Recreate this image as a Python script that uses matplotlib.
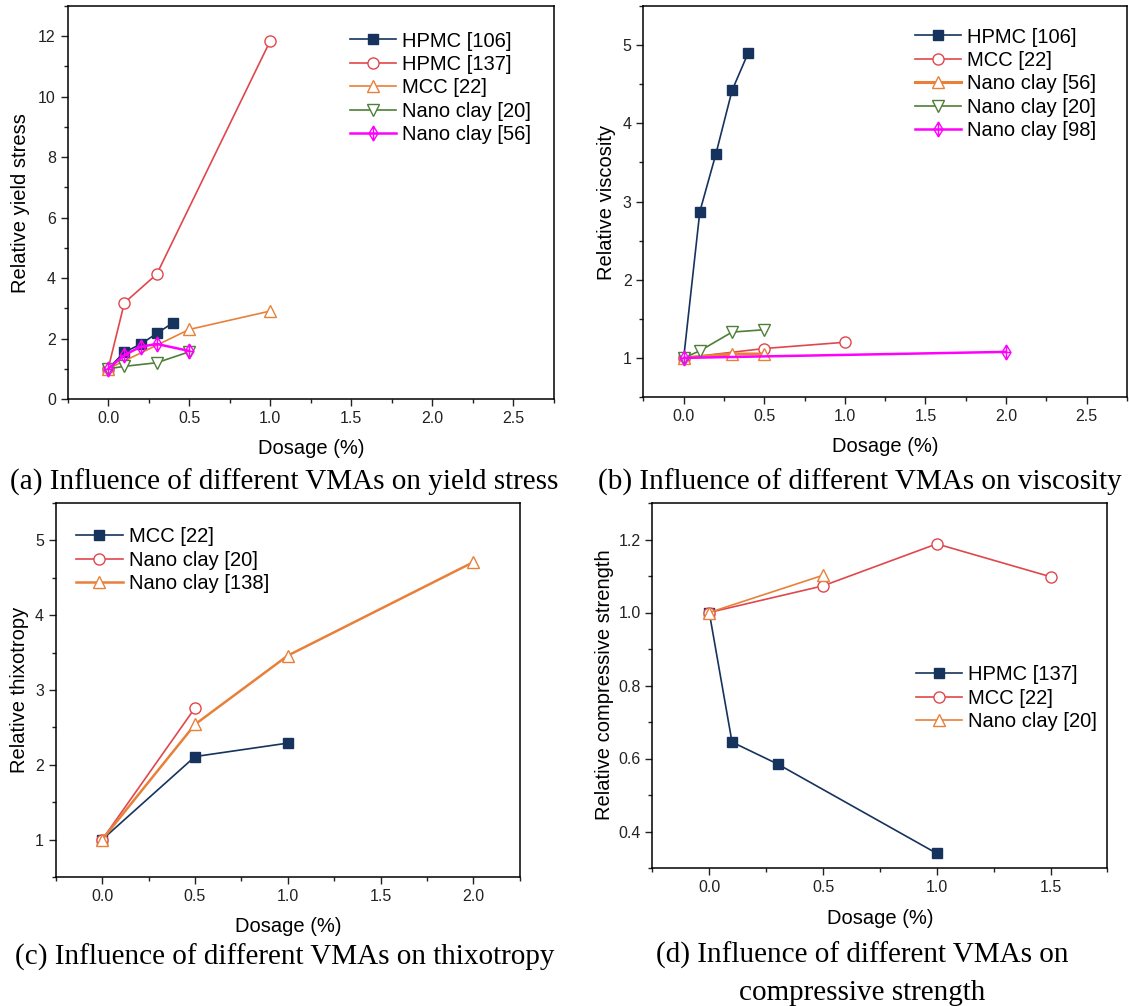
import numpy as np
import matplotlib
matplotlib.use('Agg')
import matplotlib.pyplot as plt
from matplotlib.path import Path
from matplotlib.ticker import MultipleLocator

plt.rcParams['font.family'] = ['Liberation Sans', 'DejaVu Sans']

W, H = 1129, 1006

# colours (Origin-like)
NAVY = '#15335c'
RED = '#e0474c'
ORANGE = '#e8803a'
GREEN = '#4e7f38'
MAGENTA = '#ff00ff'

# (a) yield stress
a_hpmc106_x = [0, 0.1, 0.2, 0.3, 0.4]
a_hpmc106_y = [1.0, 1.55, 1.81, 2.17, 2.52]
a_hpmc137_x = [0, 0.1, 0.3, 1.0]
a_hpmc137_y = [1.0, 3.18, 4.13, 11.85]
a_mcc22_x = [0, 0.5, 1.0]
a_mcc22_y = [1.0, 2.3, 2.91]
a_nano20_x = [0, 0.1, 0.3, 0.5]
a_nano20_y = [1.0, 1.08, 1.2, 1.56]
a_nano56_x = [0, 0.1, 0.2, 0.3, 0.5]
a_nano56_y = [1.0, 1.45, 1.73, 1.82, 1.59]

# (b) viscosity
b_hpmc106_x = [0, 0.1, 0.2, 0.3, 0.4]
b_hpmc106_y = [1.0, 2.87, 3.61, 4.42, 4.9]
b_mcc22_x = [0, 0.5, 1.0]
b_mcc22_y = [1.0, 1.12, 1.2]
b_nano56_x = [0, 0.3, 0.5]
b_nano56_y = [1.0, 1.05, 1.05]
b_nano20_x = [0, 0.1, 0.3, 0.5]
b_nano20_y = [1.0, 1.09, 1.33, 1.36]
b_nano98_x = [0, 2.0]
b_nano98_y = [1.0, 1.077]

# (c) thixotropy
c_mcc22_x = [0, 0.5, 1.0]
c_mcc22_y = [1.0, 2.11, 2.29]
c_nano20_x = [0, 0.5]
c_nano20_y = [1.0, 2.76]
c_nano138_x = [0, 0.5, 1.0, 2.0]
c_nano138_y = [1.0, 2.54, 3.46, 4.71]

# (d) compressive strength
d_hpmc137_x = [0, 0.1, 0.3, 1.0]
d_hpmc137_y = [1.0, 0.645, 0.585, 0.34]
d_mcc22_x = [0, 0.5, 1.0, 1.5]
d_mcc22_y = [1.0, 1.073, 1.188, 1.098]
d_nano20_x = [0, 0.5]
d_nano20_y = [1.0, 1.102]

# diamond with a cross inside (Origin style)
diamond_cross = Path(
    [(0, 1), (0.62, 0), (0, -1), (-0.62, 0), (0, 1), (0, 1), (0, -1), (-0.62, 0), (0.62, 0)],
    [Path.MOVETO, Path.LINETO, Path.LINETO, Path.LINETO, Path.CLOSEPOLY,
     Path.MOVETO, Path.LINETO, Path.MOVETO, Path.LINETO])

styles = {
    'sq': dict(marker='s', mfc=NAVY, mec=NAVY, ms=7.2),
    'ci': dict(marker='o', mfc='white', mec=RED, ms=8),
    'tu': dict(marker='^', mfc='white', mec=ORANGE, ms=8.5),
    'td': dict(marker='v', mfc='white', mec=GREEN, ms=8.5),
    'dc': dict(marker=diamond_cross, mfc='none', mec=MAGENTA, ms=10.5),
}


def px_box(l, t, r, b):
    return [l / W, 1 - b / H, (r - l) / W, (b - t) / H]


def style_axes(ax, xlim, ylim, ymaj, ymin):
    ax.set_xlim(*xlim)
    ax.set_ylim(*ylim)
    ax.xaxis.set_major_locator(MultipleLocator(0.5))
    ax.xaxis.set_minor_locator(MultipleLocator(0.25))
    ax.yaxis.set_major_locator(MultipleLocator(ymaj))
    ax.yaxis.set_minor_locator(MultipleLocator(ymin))
    ax.xaxis.set_major_formatter(plt.FormatStrFormatter('%.1f'))
    ax.tick_params(which='both', direction='out', top=False, right=False,
                   labelsize=11.5, colors='#222222', width=1.0)
    ax.tick_params(which='major', length=5, pad=3.5)
    ax.tick_params(which='minor', length=3)
    for s in ax.spines.values():
        s.set_linewidth(1.1)


def series(ax, x, y, color, key, label, lw=1.2):
    ax.plot(x, y, color=color, lw=lw, label=label, **styles[key])


fig = plt.figure(figsize=(W / 100, H / 100), dpi=100)

ax_a = fig.add_axes(px_box(67.6, 6, 554, 399))
ax_b = fig.add_axes(px_box(643.4, 6, 1127, 397))
ax_c = fig.add_axes(px_box(55.8, 503, 519.8, 877))
ax_d = fig.add_axes(px_box(652.4, 503, 1107.4, 868))

# (a)
series(ax_a, a_hpmc106_x, a_hpmc106_y, NAVY, 'sq', 'HPMC [106]')
series(ax_a, a_hpmc137_x, a_hpmc137_y, RED, 'ci', 'HPMC [137]')
series(ax_a, a_mcc22_x, a_mcc22_y, ORANGE, 'tu', 'MCC [22]')
series(ax_a, a_nano20_x, a_nano20_y, GREEN, 'td', 'Nano clay [20]')
series(ax_a, a_nano56_x, a_nano56_y, MAGENTA, 'dc', 'Nano clay [56]', lw=1.8)
style_axes(ax_a, (-0.25, 2.75), (0, 13), 2, 1)

# (b)
series(ax_b, b_hpmc106_x, b_hpmc106_y, NAVY, 'sq', 'HPMC [106]')
series(ax_b, b_mcc22_x, b_mcc22_y, RED, 'ci', 'MCC [22]')
series(ax_b, b_nano56_x, b_nano56_y, ORANGE, 'tu', 'Nano clay [56]', lw=2.2)
series(ax_b, b_nano20_x, b_nano20_y, GREEN, 'td', 'Nano clay [20]')
series(ax_b, b_nano98_x, b_nano98_y, MAGENTA, 'dc', 'Nano clay [98]', lw=1.8)
style_axes(ax_b, (-0.25, 2.75), (0.5, 5.5), 1, 0.5)

# (c)
series(ax_c, c_mcc22_x, c_mcc22_y, NAVY, 'sq', 'MCC [22]')
series(ax_c, c_nano20_x, c_nano20_y, RED, 'ci', 'Nano clay [20]')
series(ax_c, c_nano138_x, c_nano138_y, ORANGE, 'tu', 'Nano clay [138]', lw=1.8)
style_axes(ax_c, (-0.25, 2.25), (0.5, 5.5), 1, 0.5)

# (d)
series(ax_d, d_hpmc137_x, d_hpmc137_y, NAVY, 'sq', 'HPMC [137]')
series(ax_d, d_mcc22_x, d_mcc22_y, RED, 'ci', 'MCC [22]')
series(ax_d, d_nano20_x, d_nano20_y, ORANGE, 'tu', 'Nano clay [20]')
style_axes(ax_d, (-0.25, 1.75), (0.3, 1.3), 0.2, 0.1)
ax_d.yaxis.set_major_formatter(plt.FormatStrFormatter('%.1f'))

legend_kw = dict(loc='upper left', frameon=False, fontsize=14.5, borderpad=0,
                 borderaxespad=0, handlelength=2.3, handletextpad=0.3,
                 labelspacing=0.22)
ax_a.legend(bbox_to_anchor=(0.58, 0.935), **legend_kw)
ax_b.legend(bbox_to_anchor=(0.561, 0.945), **legend_kw)
ax_c.legend(bbox_to_anchor=(0.044, 0.935), **legend_kw)
ax_d.legend(bbox_to_anchor=(0.579, 0.555), **legend_kw)


def ftext(x, y, s, **kw):
    fig.text(x / W, 1 - y / H, s, ha='center', va='center', **kw)


# axis titles
ftext(311, 448, 'Dosage (%)', fontsize=14.5)
ftext(885, 446, 'Dosage (%)', fontsize=14.5)
ftext(288, 926, 'Dosage (%)', fontsize=14.5)
ftext(880, 918, 'Dosage (%)', fontsize=14.5)
ftext(21, 203, 'Relative yield stress', fontsize=14.5, rotation=90)
ftext(606, 202, 'Relative viscosity', fontsize=14.5, rotation=90)
ftext(20, 690, 'Relative thixotropy', fontsize=14.5, rotation=90)
ftext(604, 685, 'Relative compressive strength', fontsize=14.5, rotation=90)

# captions
cap = dict(fontsize=21, family=['Liberation Serif', 'DejaVu Serif'])
ftext(284, 482, '(a) Influence of different VMAs on yield stress', **cap)
ftext(860, 482, '(b) Influence of different VMAs on viscosity', **cap)
ftext(285, 957, '(c) Influence of different VMAs on thixotropy', **cap)
ftext(862, 955, '(d) Influence of different VMAs on', **cap)
ftext(862, 993, 'compressive strength', **cap)

fig.savefig('out.png', dpi=100)
